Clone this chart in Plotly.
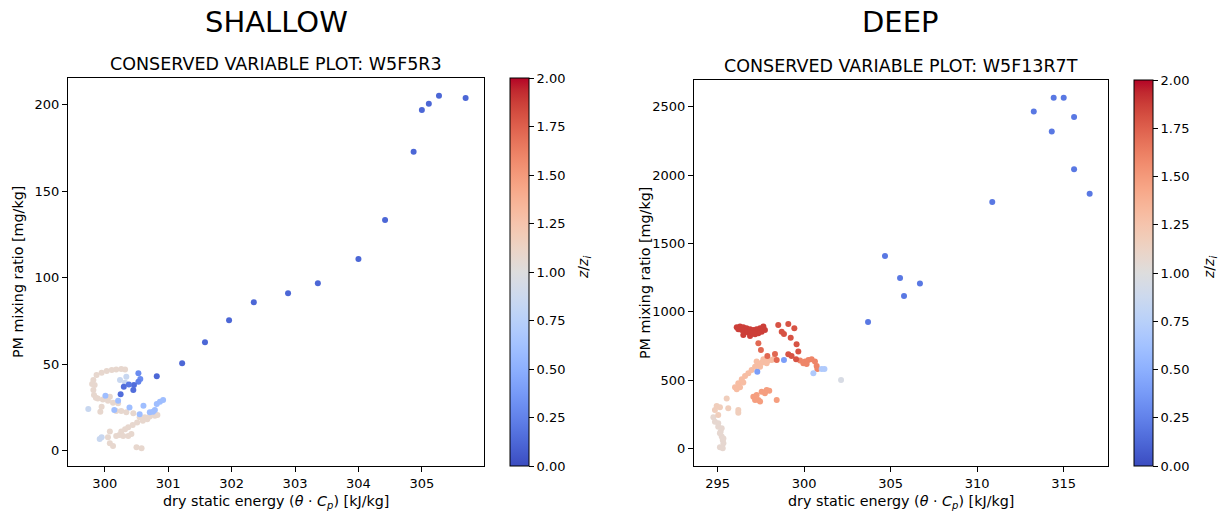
import plotly.graph_objects as go

# ---------------- data ----------------
# SHALLOW case (W5F5R3)
shallow_x = [299.82, 299.84, 299.82, 299.83, 299.89, 299.97, 300.05, 300.13, 300.21, 300.08,
             299.87, 299.95, 300.03, 300.11, 300.18, 300.26, 300.32, 299.80, 299.86,
             299.95, 299.93, 300.18, 300.26, 300.34, 300.45, 300.55, 300.63, 300.71, 300.79,
             300.83, 300.67, 300.60, 300.51, 300.44, 300.37, 300.32, 300.26, 300.23, 300.29,
             300.37, 300.42, 300.18, 300.08, 300.05, 300.08, 300.13, 300.50, 300.58,
             300.34, 300.32, 300.24, 299.74, 299.92, 299.95,
             300.01, 300.21, 300.15, 300.39, 300.61, 300.55, 300.71, 300.79, 300.82, 300.87,
             300.92, 300.76,
             300.53, 300.56, 300.53, 300.46, 300.45, 300.38, 300.30, 300.25,
             300.82, 301.22, 301.58, 301.96, 302.35, 302.89, 303.36, 304.00, 304.42, 304.87,
             305.00, 305.11, 305.27, 305.69]
shallow_y = [40.8, 37.9, 35.0, 32.1, 30.1, 29.5, 28.8, 27.6, 27.3, 31.1,
             43.6, 45.0, 45.9, 46.5, 46.9, 47.1, 46.9, 38.5, 30.5,
             25.3, 22.4, 22.8, 22.8, 22.1, 21.5, 19.2, 19.2, 19.6, 20.1,
             20.5, 18.0, 17.2, 16.1, 14.7, 13.4, 12.2, 10.9, 9.0, 8.4,
             8.4, 9.5, 8.4, 10.9, 7.6, 4.1, 2.6, 1.8, 1.3,
             42.7, 39.2, 40.8, 24.0, 6.6, 7.6,
             31.7, 28.8, 23.4, 24.8, 25.9, 20.9, 22.1, 23.4, 26.9, 28.2,
             29.2, 22.4,
             44.6, 41.3, 39.8, 37.8, 35.0, 38.2, 36.9, 32.5,
             42.9, 50.4, 62.6, 75.4, 85.8, 91.0, 96.8, 110.7, 133.3, 172.8,
             197.0, 200.6, 205.2, 203.9]
shallow_z = [1.08] * 48 + [0.85] * 6 + [0.6] * 12 + \
            [0.3, 0.3, 0.25, 0.15, 0.15, 0.2, 0.15, 0.15] + [0.12] * 14

# DEEP case (W5F13R7T)
deep_x = [294.75, 294.84, 295.03, 295.17, 295.23, 295.29, 295.33, 295.13, 295.29, 295.03,
          295.23, 295.13, 295.33,
          294.94, 295.13, 294.84, 295.52, 295.61, 296.19, 296.19, 295.03,
          296.00, 296.19, 296.39, 296.58, 296.77, 296.96, 297.16, 297.35, 297.54, 297.73,
          297.92, 298.12, 298.27, 297.25, 297.64, 297.83, 297.45, 296.48, 296.10, 296.29,
          297.06, 297.25, 297.54, 297.83, 297.98, 297.35, 297.45, 297.73, 297.16, 298.41,
          299.76, 300.05, 300.24, 300.43, 300.62, 300.72, 300.76, 299.95, 300.14,
          297.35, 297.50, 297.87, 298.31, 298.41,
          298.50, 299.08, 299.43, 298.70, 298.83, 299.22, 299.56, 299.66, 299.53, 299.08,
          299.27,
          296.10, 296.29, 296.48, 296.67, 296.87, 297.06, 297.25, 297.45, 297.64, 297.73,
          297.54, 297.35, 297.16, 296.96, 296.77, 296.58, 296.39, 296.19, 296.48, 296.87,
          297.06,
          300.53, 301.01, 301.17,
          302.13,
          298.83, 297.29,
          303.69, 304.67, 305.54, 305.77, 306.69, 310.87, 313.27, 314.42, 315.00, 315.60,
          314.31, 315.60, 316.50]
deep_y = [228, 196, 160, 123, 87, 62, 38, 9, 1, 184,
          148, 111, 74,
          311, 301, 282, 365, 294, 282, 262, 245,
          448, 477, 506, 531, 550, 575, 599, 618, 628, 636,
          643, 648, 658, 636, 653, 623, 599, 482, 433, 448,
          379, 392, 416, 428, 423, 355, 343, 404, 355, 355,
          643, 636, 648, 653, 636, 604, 582, 623, 618,
          770, 721, 677, 692, 648,
          904, 911, 880, 855, 838, 811, 762, 709, 653, 689,
          677,
          887, 892, 887, 879, 872, 867, 872, 879, 892, 867,
          855, 843, 836, 843, 848, 855, 867, 872, 831, 824,
          843,
          550, 582, 582,
          501,
          648, 562,
          926, 1409, 1248, 1116, 1208, 1804, 2466, 2566, 2566, 2425,
          2319, 2043, 1863]
deep_z = [1.07] * 13 + [1.17] * 8 + [1.3] * 20 + [1.48] * 10 + [1.6] * 9 + \
         [1.72] * 5 + [1.8] * 11 + [1.87] * 21 + [0.7] * 3 + [0.95] + [0.4] * 2 + [0.2] * 13

cbar_ticks = [0.0, 0.25, 0.5, 0.75, 1.0, 1.25, 1.5, 1.75, 2.0]
shallow_xticks = [300, 301, 302, 303, 304, 305]
shallow_yticks = [0, 50, 100, 150, 200]
deep_xticks = [295, 300, 305, 310, 315]
deep_yticks = [0, 500, 1000, 1500, 2000, 2500]

# matplotlib "coolwarm"
coolwarm = [
    (59, 76, 192), (68, 90, 204), (77, 104, 215), (87, 117, 225), (98, 130, 234),
    (108, 142, 241), (119, 154, 247), (130, 165, 251), (141, 176, 254), (152, 185, 255),
    (163, 194, 255), (174, 201, 253), (184, 208, 249), (194, 213, 244), (204, 217, 238),
    (213, 219, 230), (221, 221, 221), (229, 216, 209), (236, 211, 197), (241, 204, 184),
    (245, 196, 173), (247, 187, 160), (247, 177, 148), (247, 166, 135), (244, 154, 123),
    (241, 141, 111), (236, 127, 99), (229, 112, 88), (222, 96, 77), (213, 80, 66),
    (203, 62, 56), (192, 40, 47), (180, 4, 38)]
colorscale = [[i / (len(coolwarm) - 1), "rgb(%d,%d,%d)" % c] for i, c in enumerate(coolwarm)]

W, H = 1224, 515
FONT = "DejaVu Sans"


def px(x):
    return x / W


def py(y):
    return 1 - y / H


fig = go.Figure()
fig.add_trace(go.Scatter(x=shallow_x, y=shallow_y, mode="markers", xaxis="x", yaxis="y",
                         marker=dict(size=6, color=shallow_z, coloraxis="coloraxis",
                                     line=dict(width=0)), showlegend=False))
fig.add_trace(go.Scatter(x=deep_x, y=deep_y, mode="markers", xaxis="x2", yaxis="y2",
                         marker=dict(size=6, color=deep_z, coloraxis="coloraxis2",
                                     line=dict(width=0)), showlegend=False))

axis_style = dict(showline=True, linecolor="black", linewidth=1, mirror=True,
                  ticks="outside", ticklen=5, tickwidth=1, tickcolor="black",
                  showgrid=False, zeroline=False,
                  tickfont=dict(family=FONT, size=13, color="black"))


def cbar(x0, top, bottom):
    return dict(colorscale=colorscale, cmin=0, cmax=2,
                colorbar=dict(x=px(x0), xanchor="left", xpad=0,
                              y=py(bottom), yanchor="bottom", ypad=0,
                              len=(bottom - top) / H, lenmode="fraction",
                              thickness=19, thicknessmode="pixels",
                              outlinewidth=1, outlinecolor="black",
                              tickvals=cbar_ticks, tickformat=".2f",
                              ticks="outside", ticklen=5, tickcolor="black",
                              tickfont=dict(family=FONT, size=13, color="black")))


L_top, L_bot = 78, 466
R_top, R_bot = 80, 466

fig.update_layout(
    width=W, height=H, margin=dict(l=0, r=0, t=0, b=0),
    paper_bgcolor="white", plot_bgcolor="white",
    font=dict(family=FONT, color="black"),
    xaxis=dict(domain=[px(68), px(484)], range=[299.42, 305.98], tickvals=shallow_xticks,
               anchor="y", **axis_style),
    yaxis=dict(domain=[py(L_bot), py(L_top)], range=[-9, 215.5], tickvals=shallow_yticks,
               anchor="x", **axis_style),
    xaxis2=dict(domain=[px(694), px(1108)], range=[293.63, 317.56], tickvals=deep_xticks,
                anchor="y2", **axis_style),
    yaxis2=dict(domain=[py(R_bot), py(R_top)], range=[-128, 2696], tickvals=deep_yticks,
                anchor="x2", **axis_style),
    coloraxis=cbar(510, L_top, L_bot),
    coloraxis2=cbar(1134, R_top, R_bot),
)

xlabel = "dry static energy (<i>θ</i> · <i>C</i><sub><i>p</i></sub>) [kJ/kg]"
zlabel = "<i>z</i>/<i>z</i><sub><i>i</i></sub>"
ann = [
    dict(text="SHALLOW", x=px(276), y=py(22), size=29),
    dict(text="DEEP", x=px(900), y=py(22), size=29),
    dict(text="CONSERVED VARIABLE PLOT: W5F5R3", x=px(276), y=py(64), size=17.5),
    dict(text="CONSERVED VARIABLE PLOT: W5F13R7T", x=px(901), y=py(66), size=17.5),
    dict(text=xlabel, x=px(276), y=py(502), size=14.3),
    dict(text=xlabel, x=px(901), y=py(502), size=14.3),
    dict(text="PM mixing ratio [mg/kg]", x=px(18), y=py(272), size=14.3, angle=-90),
    dict(text="PM mixing ratio [mg/kg]", x=px(645), y=py(273), size=14.3, angle=-90),
    dict(text=zlabel, x=px(584), y=py(268), size=14, angle=-90),
    dict(text=zlabel, x=px(1210), y=py(268), size=14, angle=-90),
]
for a in ann:
    fig.add_annotation(text=a["text"], x=a["x"], y=a["y"], xref="paper", yref="paper",
                       xanchor="center", yanchor="middle", showarrow=False,
                       textangle=a.get("angle", 0),
                       font=dict(family=FONT, size=a["size"], color="black"))

fig.write_html("out.html")
